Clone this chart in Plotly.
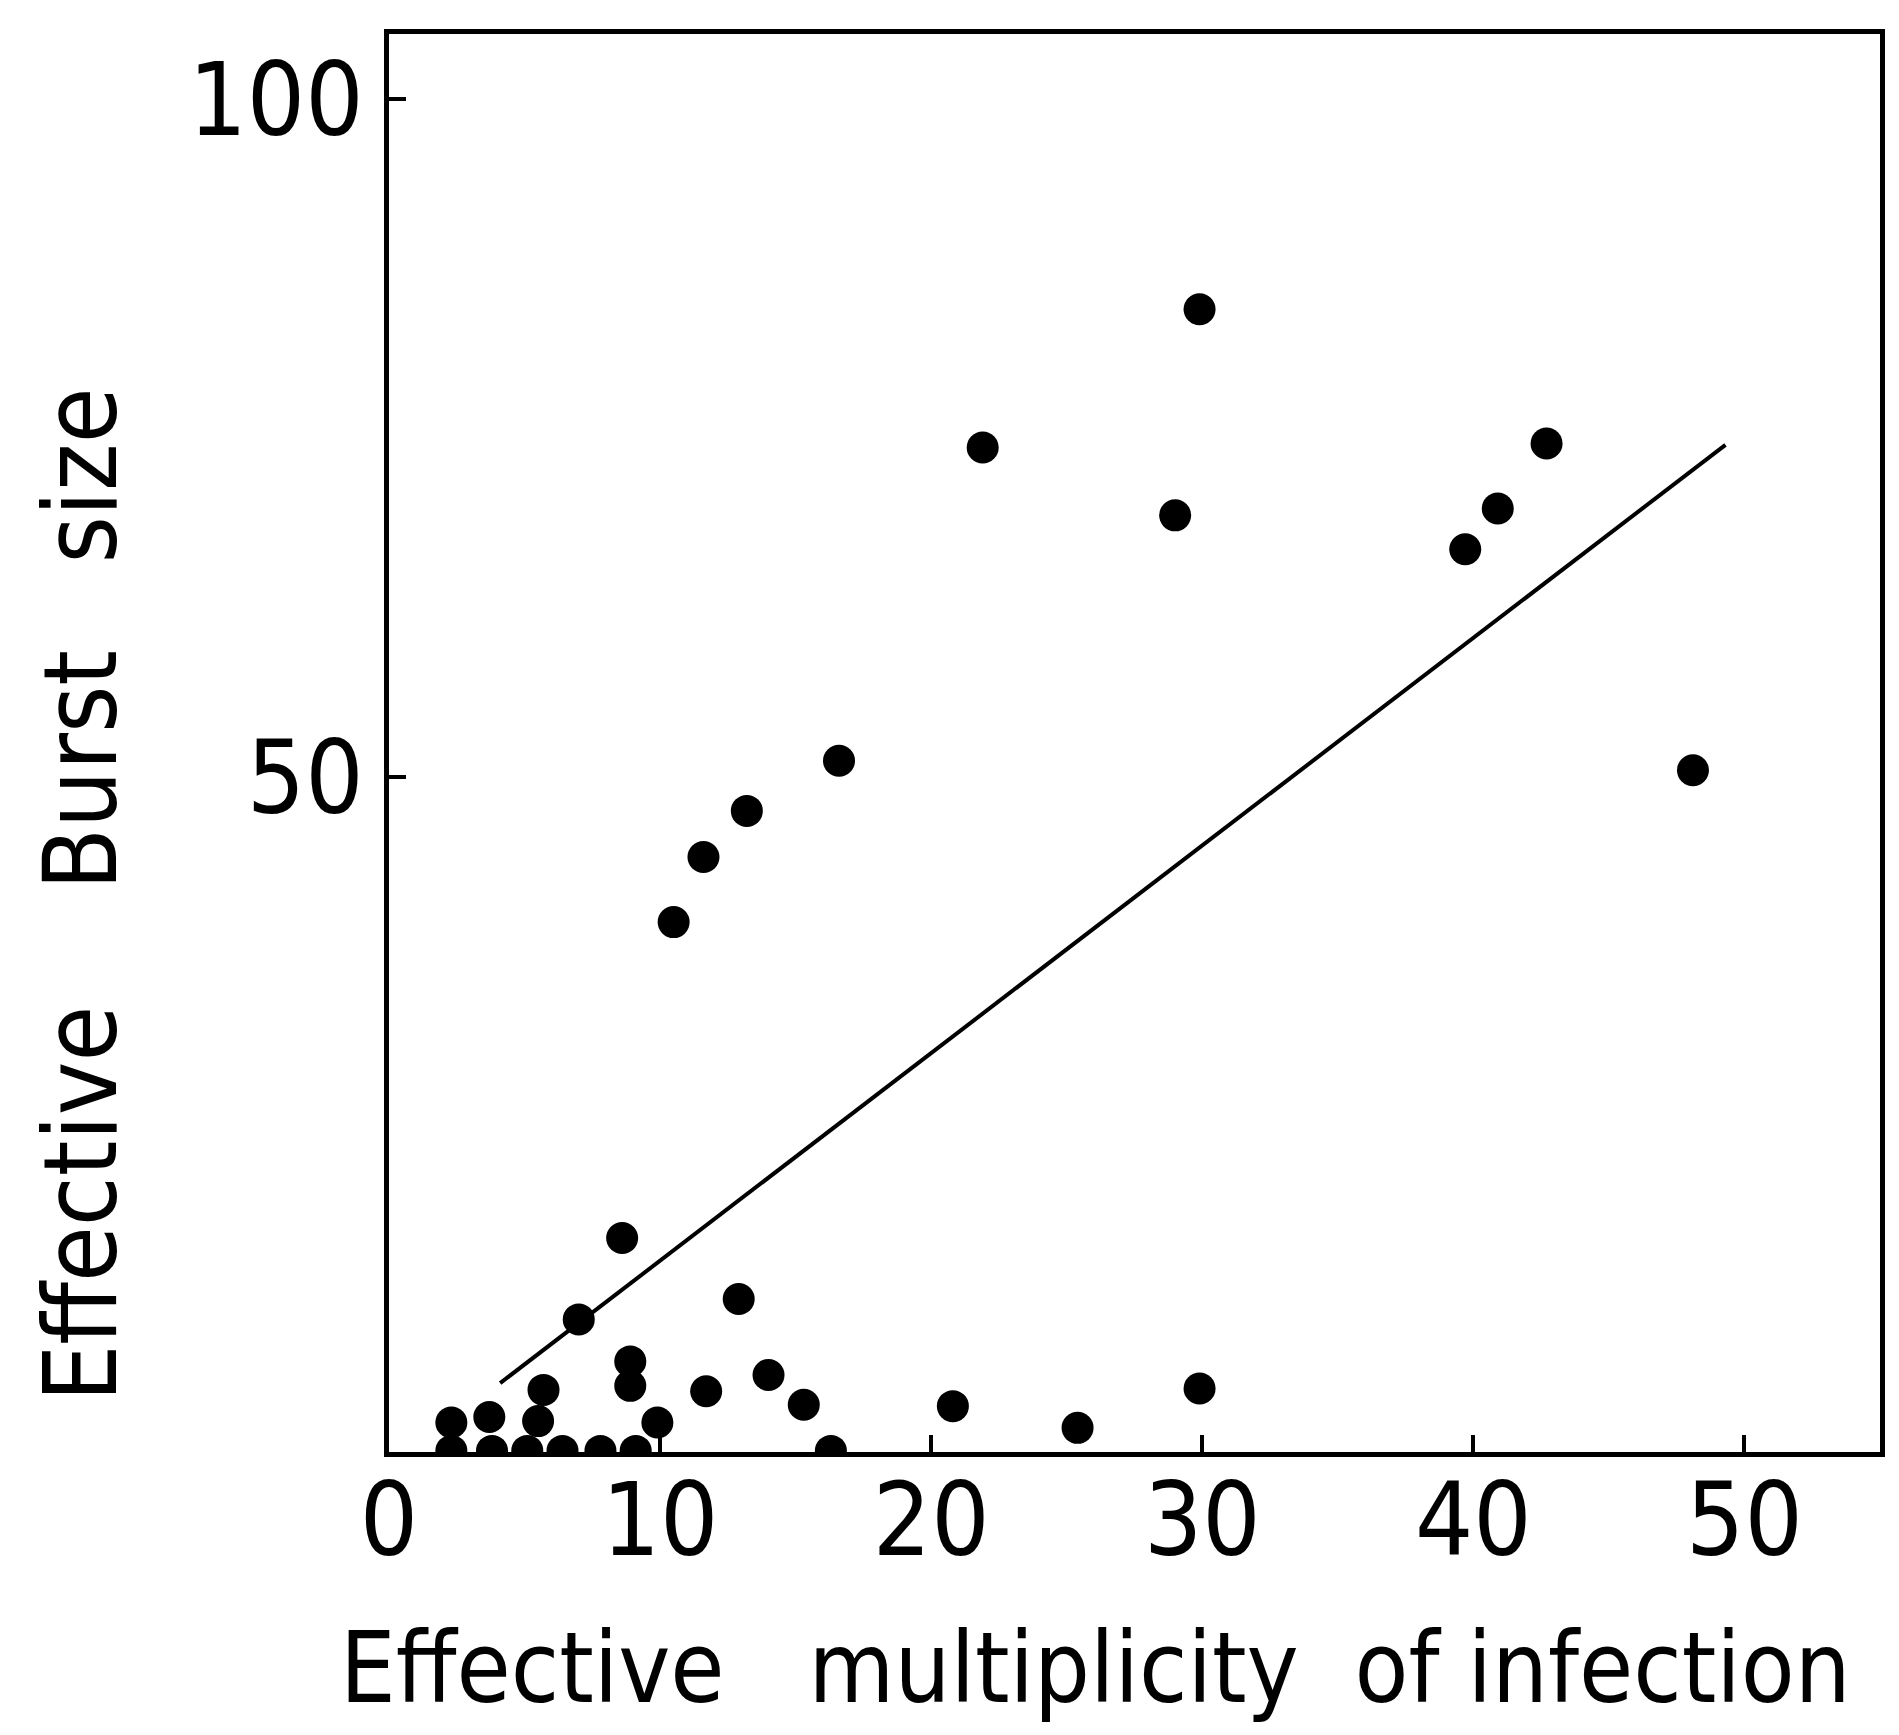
import plotly.graph_objects as go

# Data
moi = [29.9, 21.9, 42.7, 29.0, 40.9, 39.7, 16.6, 48.1, 13.2, 11.6, 10.5, 8.6,
       12.9, 7.0, 8.9, 8.9, 14.0, 11.7, 5.7, 15.3, 29.9, 20.8, 3.7, 5.5, 9.9,
       2.3, 25.4, 2.3, 3.8, 5.1, 6.4, 7.8, 9.1, 16.3]
burst = [84.5, 74.3, 74.6, 69.3, 69.8, 66.8, 51.2, 50.5, 47.5, 44.1, 39.3, 16.0,
         11.5, 10.0, 6.9, 5.1, 5.9, 4.7, 4.8, 3.7, 4.9, 3.6, 2.8, 2.5, 2.4,
         2.4, 2.0, 0.3, 0.3, 0.3, 0.3, 0.3, 0.3, 0.3]
fit_x = [4.1, 49.3]
fit_y = [5.3, 74.5]

x_ticks = [0, 10, 20, 30, 40, 50]
y_ticks = [50, 100]

FONT = "DejaVu Sans Condensed, DejaVu Sans, sans-serif"
NB = "\u00a0"

fig = go.Figure()
fig.add_trace(go.Scatter(x=fit_x, y=fit_y, mode="lines",
                         line=dict(color="black", width=4), showlegend=False))
fig.add_trace(go.Scatter(x=moi, y=burst, mode="markers",
                         marker=dict(color="black", size=32, line=dict(width=0)),
                         showlegend=False, cliponaxis=True))

axis_common = dict(showgrid=False, zeroline=False, showline=True, linecolor="black",
                   linewidth=5, mirror=True, ticks="inside", ticklen=17, tickwidth=4,
                   tickcolor="black", tickfont=dict(family=FONT, size=102, color="black"))

fig.update_xaxes(range=[0, 55.0], tickvals=x_ticks, ticktext=[str(v) for v in x_ticks],
                 ticklabelstandoff=-24, **axis_common)
fig.update_yaxes(range=[0.22, 104.8], tickvals=y_ticks, ticktext=[str(v) for v in y_ticks],
                 **axis_common)

fig.add_annotation(text="Effective" + NB * 3 + "multiplicity" + NB * 2 + "of infection",
                   xref="paper", yref="paper", x=0.474, y=-0.152,
                   xanchor="center", yanchor="middle", showarrow=False,
                   font=dict(family=FONT, size=98, color="black"))
fig.add_annotation(text="Effective" + NB * 4 + "Burst" + NB * 3 + "size",
                   xref="paper", yref="paper", x=-0.207, y=0.393,
                   xanchor="center", yanchor="middle", showarrow=False, textangle=-90,
                   font=dict(family=FONT, size=101, color="black"))

fig.update_layout(width=1891, height=1727, plot_bgcolor="white", paper_bgcolor="white",
                  margin=dict(l=381, r=19, t=26, b=283))

fig.write_html("out.html")
